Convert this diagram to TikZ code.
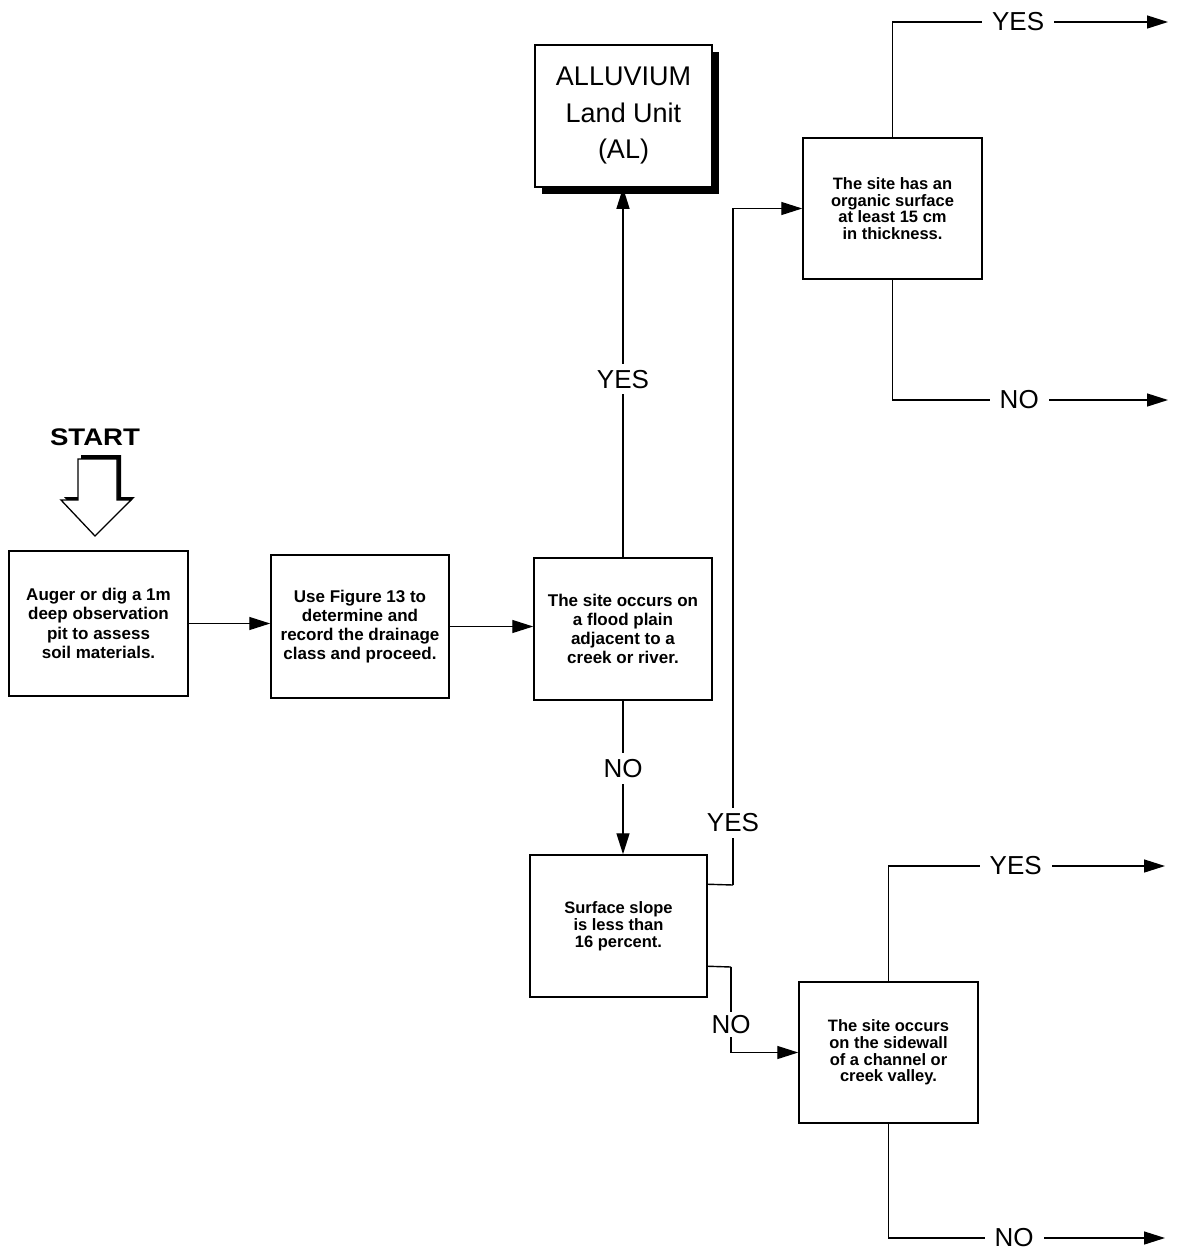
\documentclass[tikz,border=0pt]{standalone}
\usepackage{fontspec}
\setmainfont{Liberation Sans}
\usetikzlibrary{arrows.meta,calc}
\begin{document}
\begin{tikzpicture}[x=1pt,y=-1pt,
  box/.style={draw,line width=1.5pt,fill=white,align=center,inner sep=2pt,
    font=\fontsize{17}{19.2}\selectfont\bfseries},
  sbox/.style={box,font=\fontsize{16.5}{16.8}\selectfont\bfseries},
  arr/.style={line width=1.4pt,-{Triangle[length=21pt,width=13pt]}},
  ln/.style={line width=1.4pt},
  lab/.style={fill=white,font=\fontsize{26}{28}\selectfont,inner xsep=10pt,inner ysep=6pt}
]
\useasboundingbox (0,0) rectangle (1176,1251);
\fill[white] (0,0) rectangle (1176,1251);

% START label and arrow
\node[font=\fontsize{24}{26}\selectfont\bfseries] (start) at (95,437) {\scalebox{1.15}[1]{START}};
\fill[black] (81,455) -- (121,455) -- (121,497) -- (135,497) -- (97,533) -- (64,497) -- (81,497) -- cycle;
\draw[line width=1.3pt,fill=white] (78,459) -- (117,459) -- (117,500) -- (131,500) -- (95,536) -- (61,500) -- (78,500) -- cycle;

% boxes
\node[box,minimum width=179pt,minimum height=145pt] (b1) at (98.5,623.5) {Auger or dig a 1m\\deep observation\\pit to assess\\soil materials.};
\node[box,minimum width=178pt,minimum height=143pt] (b2) at (360,626.5) {Use Figure 13 to\\determine and\\record the drainage\\class and proceed.};
\node[box,minimum width=178pt,minimum height=142pt] (b3) at (623,629) {The site occurs on\\a flood plain\\adjacent to a\\creek or river.};
\fill[black] (535+7,45+7) rectangle (712+7,187+7);
\node[box,minimum width=177pt,minimum height=142pt,font=\fontsize{27}{36.5}\selectfont] (al) at (623.5,116) {ALLUVIUM\\Land Unit\\(AL)};
\node[sbox,minimum width=179pt,minimum height=141pt] (b4) at (892.5,208.5) {The site has an\\organic surface\\at least 15 cm\\in thickness.};
\node[sbox,minimum width=177pt,minimum height=142pt] (b5) at (618.5,926) {Surface slope\\is less than\\16 percent.};
\node[sbox,minimum width=179pt,minimum height=141pt] (b6) at (888.5,1052.5) {The site occurs\\on the sidewall\\of a channel or\\creek valley.};

% bend / end coordinates
\coordinate (y5a) at ($(b5.north east)+(0,30)$);
\coordinate (y5b) at (733,885);
\coordinate (n5a) at ($(b5.north east)+(0,112)$);
\coordinate (n5b) at (731,967);
\coordinate (e4y) at (1168,22);
\coordinate (e4n) at (1168,400);
\coordinate (e6y) at (1165,866);
\coordinate (e6n) at (1165,1238);

% connectors
\draw[arr] (b1.east) -- (b1.east -| b2.west);
\draw[arr] (b2.east) -- (b2.east -| b3.west);
\draw[arr] (b3.north) -- node[lab,pos=0.482]{YES} (b3.north |- al.south);
\draw[arr] (b3.south) -- node[lab,pos=0.44]{NO} (b3.south |- b5.north);
\draw[ln] (y5a) -- (y5b);
\draw[arr] (y5b) -- node[lab,pos=0.092]{YES} (y5b |- b4.west) -- (b4.west);
\draw[ln] (n5a) -- (n5b);
\draw[arr] (n5b) -- node[lab,pos=0.67,inner ysep=3pt]{NO} (n5b |- b6.west) -- (b6.west);
\draw[arr] (b4.north) |- node[lab,pos=0.728]{YES} (e4y);
\draw[arr] (b4.south) |- node[lab,pos=0.73]{NO} (e4n);
\draw[arr] (b6.north) |- node[lab,pos=0.73]{YES} (e6y);
\draw[arr] (b6.south) |- node[lab,pos=0.727]{NO} (e6n);
\end{tikzpicture}
\end{document}
